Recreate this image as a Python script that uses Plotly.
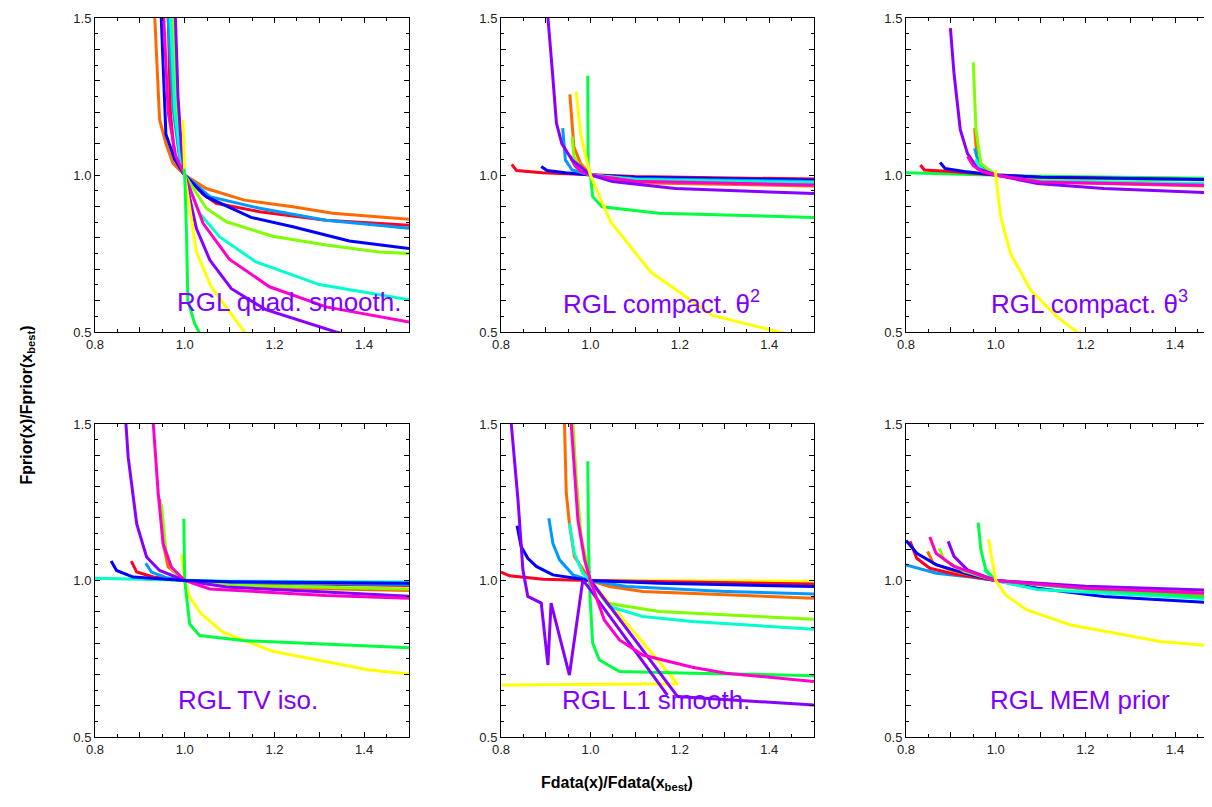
import plotly.graph_objects as go
from plotly.subplots import make_subplots

# colour of each series (same palette in every panel)
colours = {
    "red": "#ff0020", "orange": "#ff6a00", "yellow": "#ffff00", "chartreuse": "#80ff00",
    "green": "#00ff40", "cyan": "#00ffcc", "azure": "#0099ff", "blue": "#0000ff",
    "violet": "#8800ff", "violet2": "#8800ff", "magenta": "#ff00cc",
}

panel_titles = ["RGL quad. smooth.", "RGL compact. θ<sup>2</sup>", "RGL compact. θ<sup>3</sup>",
                "RGL TV iso.", "RGL L1 smooth.", "RGL MEM prior"]

# %% panel 1 : quad. smooth
quad_x = {
    "red": [0.962, 0.968, 0.978, 1.0, 1.04, 1.07, 1.167, 1.315, 1.5],
    "orange": [0.930, 0.933, 0.944, 0.958, 0.974, 1.0, 1.048, 1.133, 1.241, 1.33, 1.5],
    "azure": [0.960, 0.963, 0.975, 0.988, 1.0, 1.056, 1.167, 1.315, 1.5],
    "blue": [0.945, 0.948, 0.958, 0.978, 1.0, 1.048, 1.148, 1.241, 1.367, 1.5],
    "chartreuse": [0.972, 0.974, 0.982, 0.992, 1.0, 1.048, 1.093, 1.196, 1.315, 1.433, 1.5],
    "cyan": [0.965, 0.968, 0.978, 0.99, 1.0, 1.033, 1.078, 1.159, 1.30, 1.5],
    "magenta": [0.950, 0.953, 0.963, 0.98, 1.0, 1.041, 1.100, 1.189, 1.315, 1.5],
    "violet": [0.977, 0.979, 0.985, 0.993, 1.0, 1.026, 1.056, 1.104, 1.181, 1.337, 1.4],
    "yellow": [0.996, 1.0, 1.026, 1.059, 1.133, 1.16],
    "green": [0.998, 1.0, 1.004, 1.007, 1.022, 1.032, 1.04],
}
quad_y = {
    "red": [1.6, 1.2, 1.05, 1.0, 0.94, 0.91, 0.883, 0.856, 0.84],
    "orange": [1.6, 1.5, 1.176, 1.10, 1.037, 1.0, 0.957, 0.92, 0.899, 0.878, 0.859],
    "azure": [1.6, 1.5, 1.2, 1.06, 1.0, 0.931, 0.894, 0.856, 0.83],
    "blue": [1.6, 1.5, 1.13, 1.048, 1.0, 0.931, 0.865, 0.835, 0.79, 0.766],
    "chartreuse": [1.6, 1.5, 1.2, 1.06, 1.0, 0.894, 0.851, 0.805, 0.777, 0.755, 0.75],
    "cyan": [1.6, 1.5, 1.2, 1.06, 1.0, 0.878, 0.803, 0.723, 0.651, 0.603],
    "magenta": [1.6, 1.5, 1.2, 1.06, 1.0, 0.846, 0.731, 0.644, 0.58, 0.532],
    "violet": [1.6, 1.5, 1.25, 1.08, 1.0, 0.83, 0.729, 0.638, 0.571, 0.5, 0.48],
    "yellow": [1.176, 1.0, 0.755, 0.644, 0.5, 0.46],
    "green": [1.02, 1.0, 0.814, 0.60, 0.527, 0.5, 0.47],
}

# %% panel 2 : compact theta^2
comp2_x = {
    "red": [0.824, 0.835, 0.892, 1.0, 1.1, 1.5],
    "blue": [0.89, 0.903, 0.944, 1.0, 1.1, 1.5],
    "orange": [0.954, 0.963, 0.978, 1.0, 1.1, 1.5],
    "azure": [0.938, 0.944, 0.959, 1.0, 1.1, 1.5],
    "chartreuse": [0.959, 0.963, 0.978, 1.0, 1.1, 1.5],
    "cyan": [0.958, 0.968, 0.982, 1.0, 1.1, 1.5],
    "magenta": [0.955, 0.965, 0.98, 1.0, 1.1, 1.5],
    "violet": [0.904, 0.905, 0.914, 0.924, 0.936, 0.959, 1.0, 1.049, 1.19, 1.5],
    "green": [0.994, 0.995, 1.0, 1.005, 1.026, 1.153, 1.5],
    "yellow": [0.968, 0.978, 0.993, 1.0, 1.045, 1.135, 1.273, 1.423, 1.45],
}
comp2_y = {
    "red": [1.034, 1.014, 1.007, 1.0, 0.995, 0.987],
    "blue": [1.027, 1.014, 1.007, 1.0, 0.993, 0.984],
    "orange": [1.257, 1.09, 1.037, 1.0, 0.975, 0.965],
    "azure": [1.149, 1.048, 1.016, 1.0, 0.988, 0.979],
    "chartreuse": [1.122, 1.059, 1.021, 1.0, 0.985, 0.973],
    "cyan": [1.05, 1.025, 1.008, 1.0, 0.985, 0.976],
    "magenta": [1.06, 1.03, 1.01, 1.0, 0.98, 0.968],
    "violet": [1.6, 1.5, 1.346, 1.165, 1.10, 1.048, 1.0, 0.979, 0.957, 0.941],
    "green": [1.316, 1.027, 1.0, 0.931, 0.899, 0.878, 0.865],
    "yellow": [1.266, 1.133, 1.037, 1.0, 0.851, 0.691, 0.553, 0.5, 0.49],
}

# %% panel 3 : compact theta^3
comp3_x = {
    "green": [0.8, 1.0, 1.1, 1.5],
    "red": [0.832, 0.841, 0.9, 1.0, 1.1, 1.5],
    "orange": [0.953, 0.958, 0.97, 1.0, 1.1, 1.5],
    "azure": [0.953, 0.963, 0.98, 1.0, 1.1, 1.5],
    "cyan": [0.955, 0.965, 0.98, 1.0, 1.1, 1.5],
    "chartreuse": [0.95, 0.956, 0.967, 1.0, 1.1, 1.5],
    "blue": [0.876, 0.887, 0.93, 1.0, 1.1, 1.5],
    "violet": [0.899, 0.907, 0.921, 0.937, 0.959, 1.0, 1.093, 1.241, 1.5],
    "magenta": [0.937, 0.95, 0.97, 1.0, 1.1, 1.5],
    "yellow": [1.0, 1.0, 1.011, 1.033, 1.078, 1.137, 1.181, 1.2],
}
comp3_y = {
    "green": [1.007, 1.0, 0.996, 0.989],
    "red": [1.032, 1.016, 1.011, 1.0, 0.993, 0.984],
    "orange": [1.149, 1.06, 1.02, 1.0, 0.978, 0.964],
    "azure": [1.085, 1.032, 1.01, 1.0, 0.98, 0.968],
    "cyan": [1.05, 1.025, 1.008, 1.0, 0.982, 0.972],
    "chartreuse": [1.359, 1.144, 1.037, 1.0, 0.99, 0.984],
    "blue": [1.04, 1.021, 1.011, 1.0, 0.993, 0.985],
    "violet": [1.468, 1.324, 1.144, 1.069, 1.021, 1.0, 0.973, 0.957, 0.942],
    "magenta": [1.059, 1.03, 1.01, 1.0, 0.978, 0.966],
    "yellow": [1.016, 1.0, 0.867, 0.75, 0.633, 0.548, 0.5, 0.48],
}

# %% panel 4 : TV iso
tv_x = {
    "cyan": [0.8, 1.0, 1.1, 1.5],
    "red": [0.881, 0.893, 0.93, 1.0, 1.1, 1.5],
    "azure": [0.913, 0.926, 0.959, 1.0, 1.1, 1.5],
    "orange": [0.944, 0.952, 0.963, 1.0, 1.1, 1.5],
    "chartreuse": [0.948, 0.958, 0.972, 1.0, 1.1, 1.5],
    "yellow": [0.993, 1.0, 1.011, 1.037, 1.085, 1.196, 1.411, 1.5],
    "green": [0.998, 0.999, 1.0, 1.011, 1.033, 1.13, 1.5],
    "violet": [0.868, 0.869, 0.874, 0.893, 0.915, 0.944, 1.0, 1.093, 1.315, 1.5],
    "magenta": [0.929, 0.93, 0.941, 0.952, 0.97, 1.0, 1.056, 1.315, 1.5],
    "blue": [0.836, 0.848, 0.885, 1.0, 1.1, 1.5],
}
tv_y = {
    "cyan": [1.007, 1.0, 0.998, 0.995],
    "red": [1.062, 1.027, 1.011, 1.0, 0.992, 0.984],
    "azure": [1.055, 1.027, 1.009, 1.0, 0.994, 0.987],
    "orange": [1.261, 1.117, 1.043, 1.0, 0.98, 0.968],
    "chartreuse": [1.243, 1.096, 1.035, 1.0, 0.985, 0.973],
    "yellow": [1.083, 1.0, 0.947, 0.893, 0.835, 0.774, 0.714, 0.701],
    "green": [1.197, 1.02, 1.0, 0.861, 0.824, 0.808, 0.785],
    "violet": [1.6, 1.5, 1.394, 1.181, 1.075, 1.032, 1.0, 0.979, 0.963, 0.95],
    "magenta": [1.6, 1.5, 1.277, 1.117, 1.043, 1.0, 0.973, 0.952, 0.943],
    "blue": [1.062, 1.032, 1.011, 1.0, 0.996, 0.991],
}

# %% panel 5 : L1 smooth
l1_x = {
    "yellow": [1.5, 1.0, 1.195, 0.8],
    "red": [0.8, 0.819, 0.894, 1.0, 1.5],
    "orange": [0.941, 0.942, 0.946, 0.953, 0.964, 1.0, 1.042, 1.117, 1.5],
    "azure": [0.907, 0.916, 0.931, 0.961, 1.0, 1.08, 1.303, 1.5],
    "blue": [0.836, 0.845, 0.86, 0.879, 0.916, 1.0, 1.154, 1.5],
    "chartreuse": [0.959, 0.961, 0.968, 0.979, 1.0, 1.035, 1.154, 1.5],
    "cyan": [0.953, 0.964, 0.983, 1.0, 1.042, 1.117, 1.228, 1.5],
    "green": [0.994, 0.996, 0.999, 1.005, 1.02, 1.065, 1.228, 1.5],
    "violet": [0.821, 0.823, 0.838, 0.849, 0.86, 0.89, 0.905, 0.912, 0.953, 0.983, 1.0, 1.172],
    "violet2": [1.0, 1.195, 1.5],
    "magenta": [0.955, 0.957, 0.972, 0.987, 1.0, 1.031, 1.065, 1.117, 1.228, 1.303, 1.5],
}
l1_y = {
    "yellow": [0.998, 1.0, 0.67, 0.666],
    "red": [1.027, 1.015, 1.004, 1.0, 0.989],
    "orange": [1.6, 1.5, 1.279, 1.183, 1.077, 1.0, 0.981, 0.965, 0.943],
    "azure": [1.199, 1.119, 1.066, 1.018, 1.0, 0.981, 0.965, 0.957],
    "blue": [1.175, 1.109, 1.071, 1.045, 1.018, 1.0, 0.991, 0.981],
    "chartreuse": [1.6, 1.5, 1.333, 1.141, 1.0, 0.928, 0.901, 0.876],
    "cyan": [1.183, 1.087, 1.023, 1.0, 0.917, 0.885, 0.869, 0.844],
    "green": [1.381, 1.1, 0.95, 0.80, 0.746, 0.709, 0.704, 0.696],
    "violet": [1.6, 1.5, 1.258, 1.034, 0.949, 0.928, 0.73, 0.928, 0.698, 1.002, 0.97, 0.634],
    "violet2": [1.0, 0.629, 0.602],
    "magenta": [1.6, 1.5, 1.194, 1.066, 1.0, 0.874, 0.81, 0.762, 0.723, 0.704, 0.677],
}

# %% panel 6 : MEM prior
mem_x = {
    "azure": [0.8, 0.868, 0.944, 1.0, 1.167, 1.5],
    "red": [0.809, 0.824, 0.853, 0.907, 1.0, 1.2, 1.5],
    "orange": [0.848, 0.861, 0.907, 1.0, 1.2, 1.5],
    "blue": [0.8, 0.824, 0.868, 0.944, 1.0, 1.093, 1.241, 1.5],
    "chartreuse": [0.874, 0.885, 0.93, 1.0, 1.2, 1.5],
    "cyan": [0.974, 1.0, 1.093, 1.5],
    "green": [0.961, 0.967, 0.978, 1.0, 1.2, 1.5],
    "violet": [0.894, 0.907, 0.937, 1.0, 1.2, 1.5],
    "magenta": [0.853, 0.867, 0.907, 1.0, 1.2, 1.5],
    "yellow": [0.984, 0.993, 1.0, 1.022, 1.067, 1.167, 1.367, 1.5],
}
mem_y = {
    "azure": [1.05, 1.023, 1.011, 1.0, 0.981, 0.965],
    "red": [1.125, 1.071, 1.039, 1.021, 1.0, 0.975, 0.954],
    "orange": [1.093, 1.055, 1.029, 1.0, 0.975, 0.954],
    "blue": [1.128, 1.087, 1.05, 1.018, 1.0, 0.975, 0.949, 0.928],
    "chartreuse": [1.103, 1.066, 1.029, 1.0, 0.978, 0.962],
    "cyan": [1.034, 1.0, 0.971, 0.94],
    "green": [1.185, 1.098, 1.034, 1.0, 0.972, 0.944],
    "violet": [1.125, 1.077, 1.034, 1.0, 0.982, 0.968],
    "magenta": [1.139, 1.087, 1.045, 1.0, 0.975, 0.958],
    "yellow": [1.132, 1.055, 1.0, 0.954, 0.908, 0.858, 0.805, 0.789],
}

panels = [(quad_x, quad_y), (comp2_x, comp2_y), (comp3_x, comp3_y),
          (tv_x, tv_y), (l1_x, l1_y), (mem_x, mem_y)]

# label position (data coords) of the panel name
label_x = [1.233, 1.158, 1.209, 1.14, 1.147, 1.189]
label_y = [0.594, 0.594, 0.594, 0.617, 0.617, 0.617]

# the page has an 8px body margin, so the figure is a bit smaller and everything sits 8px up/left
OFF = 8
W, H = 1212 - OFF, 807 - OFF
# screen pixel boxes of the plot areas (left, right, top, bottom)
col_px = [(95, 409), (501, 814), (906, 1220)]
row_px = [(18, 332), (424, 737)]

fig = make_subplots(rows=2, cols=3)
FONT = "Liberation Sans, Arial, sans-serif"

for i, (px, py) in enumerate(panels):
    r, c = i // 3 + 1, i % 3 + 1
    for name in px:
        fig.add_trace(go.Scatter(x=px[name], y=py[name], mode="lines",
                                 line=dict(color=colours[name], width=3),
                                 showlegend=False, hoverinfo="skip"), row=r, col=c)
    n = "" if i == 0 else str(i + 1)
    fig.add_annotation(x=label_x[i], y=label_y[i], xref="x" + n, yref="y" + n,
                       text=panel_titles[i], showarrow=False,
                       font=dict(family=FONT, size=26, color="#7f00ff"))

x_ticks = [0.8, 0.9, 1.0, 1.1, 1.2, 1.3, 1.4, 1.5]
x_text = ["0.8", "", "1.0", "", "1.2", "", "1.4", ""]
y_ticks = [0.5, 0.6, 0.7, 0.8, 0.9, 1.0, 1.1, 1.2, 1.3, 1.4, 1.5]
y_text = ["0.5", "", "", "", "", "1.0", "", "", "", "", "1.5"]

for i in range(6):
    r, c = i // 3, i % 3
    l, rt = col_px[c][0] - OFF, col_px[c][1] - OFF
    t, b = row_px[r][0] - OFF, row_px[r][1] - OFF
    right = min(rt, W)
    xr = [0.8, 0.8 + 0.7 * (right - l) / (rt - l)]
    axstyle = dict(showline=True, linecolor="black", linewidth=1, ticks="inside",
                   ticklen=5, tickcolor="black", showgrid=False, zeroline=False, automargin=False,
                   tickfont=dict(family=FONT, size=13, color="#222"),
                   minor=dict(ticks="inside", ticklen=3, dtick=0.05, tickcolor="black", showgrid=False))
    fig.update_xaxes(range=xr, domain=[l / W, right / W], tickvals=x_ticks, ticktext=x_text,
                     mirror="ticks", **axstyle, row=r + 1, col=c + 1)
    fig.update_yaxes(range=[0.5, 1.5], domain=[1 - b / H, 1 - t / H], tickvals=y_ticks, ticktext=y_text,
                     mirror="ticks" if c < 2 else False, **axstyle, row=r + 1, col=c + 1)

fig.add_annotation(x=(15 - OFF) / W, y=1 - (405 - OFF) / H, xref="paper", yref="paper", textangle=-90,
                   text="<b>Fprior(x)/Fprior(x<sub>best</sub>)</b>", showarrow=False,
                   font=dict(family=FONT, size=16, color="black"))
fig.add_annotation(x=(617 - OFF) / W, y=1 - (795 - OFF) / H, xref="paper", yref="paper",
                   text="<b>Fdata(x)/Fdata(x<sub>best</sub>)</b>", showarrow=False,
                   font=dict(family=FONT, size=16, color="black"))

fig.update_layout(width=W, height=H, margin=dict(l=0, r=0, t=0, b=0),
                  paper_bgcolor="white", plot_bgcolor="white")
fig.write_html("out.html")
